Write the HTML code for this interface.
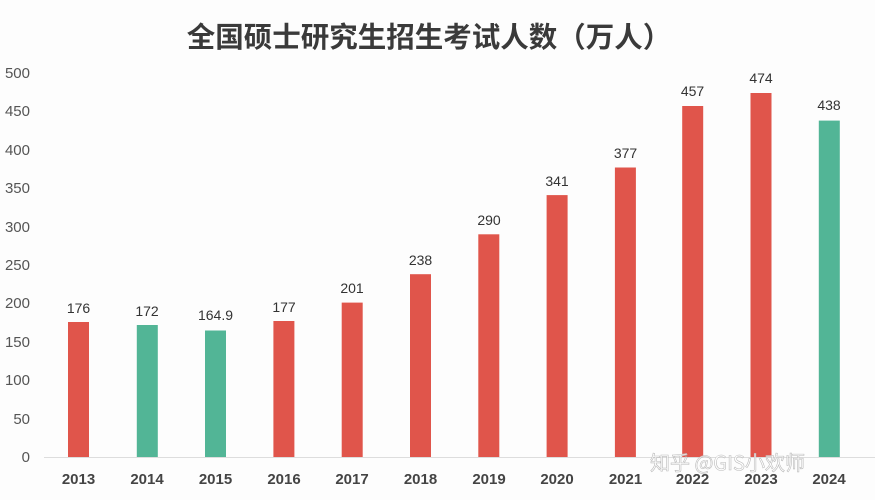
<!DOCTYPE html>
<html><head><meta charset="utf-8"><style>
html,body{margin:0;padding:0;background:#fdfdfd;}
svg{display:block;}
</style></head><body>
<svg width="875" height="500" viewBox="0 0 875 500" xmlns="http://www.w3.org/2000/svg" font-family="Liberation Sans, Noto Sans CJK SC, sans-serif">
<rect width="875" height="500" fill="#fdfdfd"/>
<text x="429" y="47" text-anchor="middle" font-size="28.5" font-weight="bold" fill="#3a3a3a" font-family="Noto Sans CJK SC, sans-serif">全国硕士研究生招生考试人数（万人）</text>
<g font-size="15" fill="#555" text-anchor="end">
<text x="30" y="462">0</text><text x="30" y="424">50</text><text x="30" y="385">100</text><text x="30" y="347">150</text><text x="30" y="308">200</text><text x="30" y="270">250</text><text x="30" y="232">300</text><text x="30" y="193">350</text><text x="30" y="155">400</text><text x="30" y="116">450</text><text x="30" y="78">500</text>
</g>
<line x1="44" y1="457.5" x2="875" y2="457.5" stroke="#ddd" stroke-width="1"/>
<g font-size="14" fill="#333" text-anchor="middle">
<rect x="68" y="322" width="21" height="135" fill="#e0554b"/><text x="78.5" y="313">176</text><text x="78.5" y="484" font-size="15" font-weight="bold" fill="#444">2013</text>
<rect x="136.8" y="325" width="21" height="132" fill="#52b596"/><text x="147" y="316">172</text><text x="147" y="484" font-size="15" font-weight="bold" fill="#444">2014</text>
<rect x="205" y="330.5" width="21" height="126.5" fill="#52b596"/><text x="215.5" y="320">164.9</text><text x="215.5" y="484" font-size="15" font-weight="bold" fill="#444">2015</text>
<rect x="273.4" y="321" width="21" height="136" fill="#e0554b"/><text x="284" y="312">177</text><text x="284" y="484" font-size="15" font-weight="bold" fill="#444">2016</text>
<rect x="341.7" y="302.6" width="21" height="154.4" fill="#e0554b"/><text x="352" y="293">201</text><text x="352" y="484" font-size="15" font-weight="bold" fill="#444">2017</text>
<rect x="410" y="274.2" width="21" height="182.8" fill="#e0554b"/><text x="420.5" y="265">238</text><text x="420.5" y="484" font-size="15" font-weight="bold" fill="#444">2018</text>
<rect x="478.3" y="234.3" width="21" height="222.7" fill="#e0554b"/><text x="489" y="225">290</text><text x="489" y="484" font-size="15" font-weight="bold" fill="#444">2019</text>
<rect x="546.6" y="195.1" width="21" height="261.9" fill="#e0554b"/><text x="557" y="186">341</text><text x="557" y="484" font-size="15" font-weight="bold" fill="#444">2020</text>
<rect x="614.9" y="167.5" width="21" height="289.5" fill="#e0554b"/><text x="625.5" y="158">377</text><text x="625.5" y="484" font-size="15" font-weight="bold" fill="#444">2021</text>
<rect x="682.2" y="106" width="21" height="351" fill="#e0554b"/><text x="692.5" y="96">457</text><text x="692.5" y="484" font-size="15" font-weight="bold" fill="#444">2022</text>
<rect x="750.5" y="93" width="21" height="364" fill="#e0554b"/><text x="761" y="83">474</text><text x="761" y="484" font-size="15" font-weight="bold" fill="#444">2023</text>
<rect x="818.8" y="120.6" width="21" height="336.4" fill="#52b596"/><text x="829" y="110">438</text><text x="829" y="484" font-size="15" font-weight="bold" fill="#444">2024</text>
</g>
<text x="650" y="470" font-size="20" fill="#fff" fill-opacity="0.8" stroke="#bbb" stroke-width="0.6" font-family="Noto Sans CJK SC, sans-serif">知乎 @GIS小欢师</text>
</svg>
</body></html>
